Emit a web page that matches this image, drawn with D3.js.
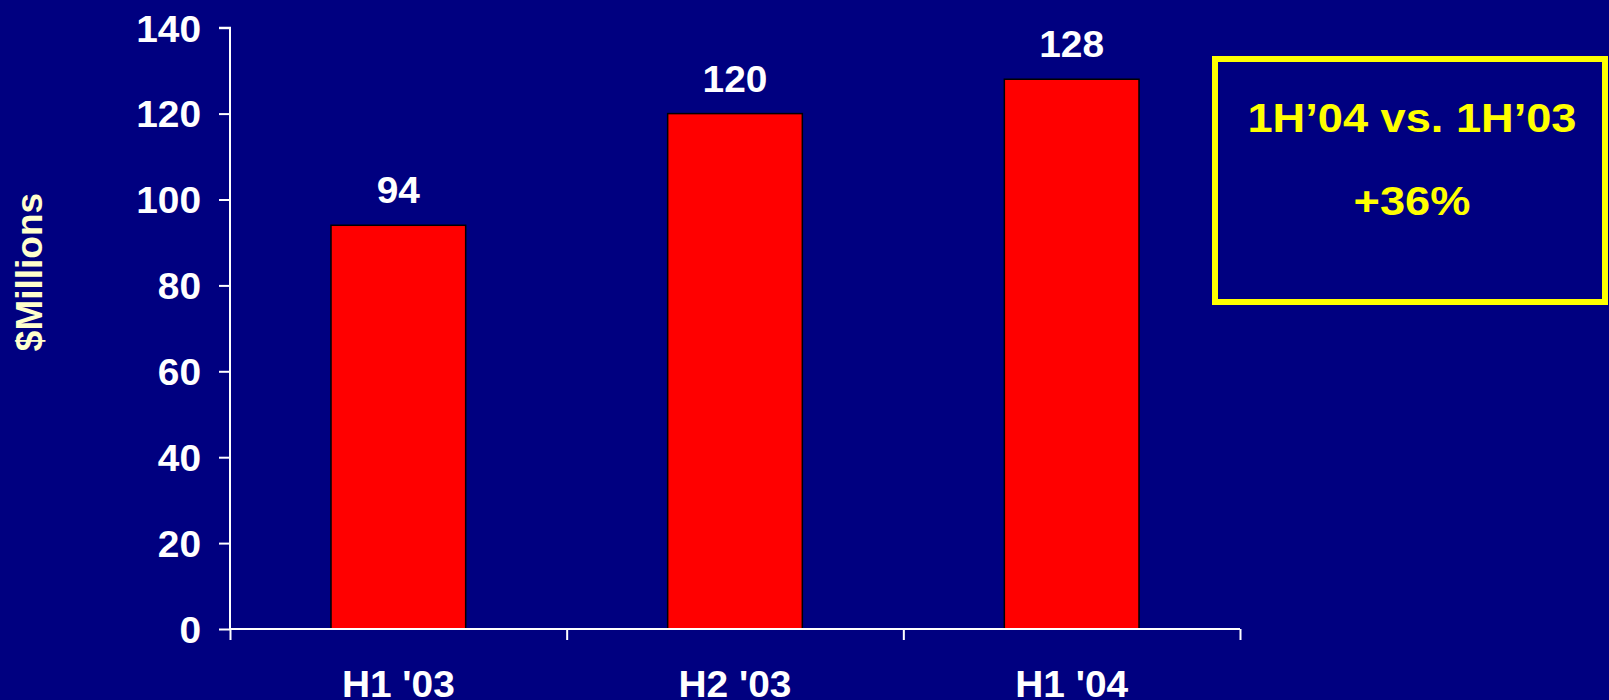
<!DOCTYPE html>
<html>
<head>
<meta charset="utf-8">
<script src="https://cdn.jsdelivr.net/npm/d3@7/dist/d3.min.js"></script>
<style>
  html, body { margin: 0; padding: 0; background: #000080; overflow: hidden; }
  svg { display: block; }
  text { font-family: "Liberation Sans", Arial, sans-serif; font-weight: bold; }
</style>
</head>
<body>
<svg id="chart" width="1609" height="700"></svg>
<script>
// Half-year revenue, $ millions
const periods = ["H1 '03", "H2 '03", "H1 '04"];
const revenue = [94, 120, 128];
const yTicks = [0, 20, 40, 60, 80, 100, 120, 140];
const calloutLines = ["1H\u201904 vs. 1H\u201903", "+36%"];
const yTitle = "$Millions";

const svg = d3.select("#chart");
const W = 1609, H = 700;
const labelStretch = 1.05;   // slightly wide lettering used on the chart labels
const calloutStretch = 1.13;

svg.append("rect").attr("width", W).attr("height", H).attr("fill", "#000080");

const plot = { left: 230, right: 1240, top: 27.7, bottom: 629 };

const x = d3.scaleBand()
  .domain(periods)
  .range([plot.left, plot.right])
  .paddingInner(0.6)
  .paddingOuter(0.3);

const y = d3.scaleLinear()
  .domain([0, 140])
  .range([plot.bottom, plot.top]);

// Bars
svg.append("g").selectAll("rect")
  .data(periods)
  .join("rect")
  .attr("x", d => x(d))
  .attr("y", (d, i) => y(revenue[i]))
  .attr("width", x.bandwidth())
  .attr("height", (d, i) => y(0) - y(revenue[i]))
  .attr("fill", "#ff0000")
  .attr("stroke", "#000000")
  .attr("stroke-width", 1.5);

// Value labels
svg.append("g").selectAll("text")
  .data(periods)
  .join("text")
  .attr("transform", (d, i) =>
    `translate(${x(d) + x.bandwidth() / 2},${y(revenue[i]) - 22}) scale(${labelStretch},1)`)
  .attr("text-anchor", "middle")
  .attr("fill", "#ffffff")
  .attr("font-size", 37)
  .text((d, i) => revenue[i]);

// Y axis
const yAxis = svg.append("g")
  .attr("transform", `translate(${plot.left},0)`)
  .call(d3.axisLeft(y).tickValues(yTicks).tickSize(11).tickPadding(18));
yAxis.selectAll("path, line").attr("stroke", "#ffffff").attr("stroke-width", 2);
yAxis.select(".domain").attr("d", `M-11,${y(140)}H0V${y(0)}`);
yAxis.selectAll("text")
  .attr("fill", "#ffffff")
  .attr("font-size", 37)
  .attr("font-family", "Liberation Sans, Arial, sans-serif")
  .attr("font-weight", "bold")
  .attr("x", -29 / labelStretch)
  .attr("transform", `scale(${labelStretch},1)`)
  .attr("dy", "0.36em");

// X axis with ticks at the category boundaries
const xBounds = d3.scaleLinear().domain([0, periods.length]).range([plot.left, plot.right]);
const xAxis = svg.append("g")
  .attr("transform", `translate(0,${plot.bottom})`)
  .call(d3.axisBottom(xBounds).tickValues(d3.range(periods.length + 1)).tickSize(11).tickFormat(""));
xAxis.selectAll("path, line").attr("stroke", "#ffffff").attr("stroke-width", 2);
xAxis.select(".domain").attr("d", `M${plot.left},0H${plot.right}`);

// Category labels
svg.append("g").selectAll("text")
  .data(periods)
  .join("text")
  .attr("transform", d => `translate(${x(d) + x.bandwidth() / 2},697) scale(${labelStretch},1)`)
  .attr("text-anchor", "middle")
  .attr("fill", "#ffffff")
  .attr("font-size", 37)
  .text(d => d);

// Y axis title
svg.append("text")
  .attr("transform", `translate(42,272) rotate(-90)`)
  .attr("text-anchor", "middle")
  .attr("fill", "#ffffcc")
  .attr("font-size", 37)
  .text(yTitle);

// Callout box
svg.append("rect")
  .attr("x", 1215).attr("y", 59)
  .attr("width", 390).attr("height", 243)
  .attr("fill", "none")
  .attr("stroke", "#ffff00")
  .attr("stroke-width", 6);

svg.append("g").selectAll("text")
  .data(calloutLines)
  .join("text")
  .attr("transform", (d, i) => `translate(1412,${[132, 215][i]}) scale(${calloutStretch},1)`)
  .attr("text-anchor", "middle")
  .attr("fill", "#ffff00")
  .attr("font-size", 40)
  .text(d => d);
</script>
</body>
</html>
